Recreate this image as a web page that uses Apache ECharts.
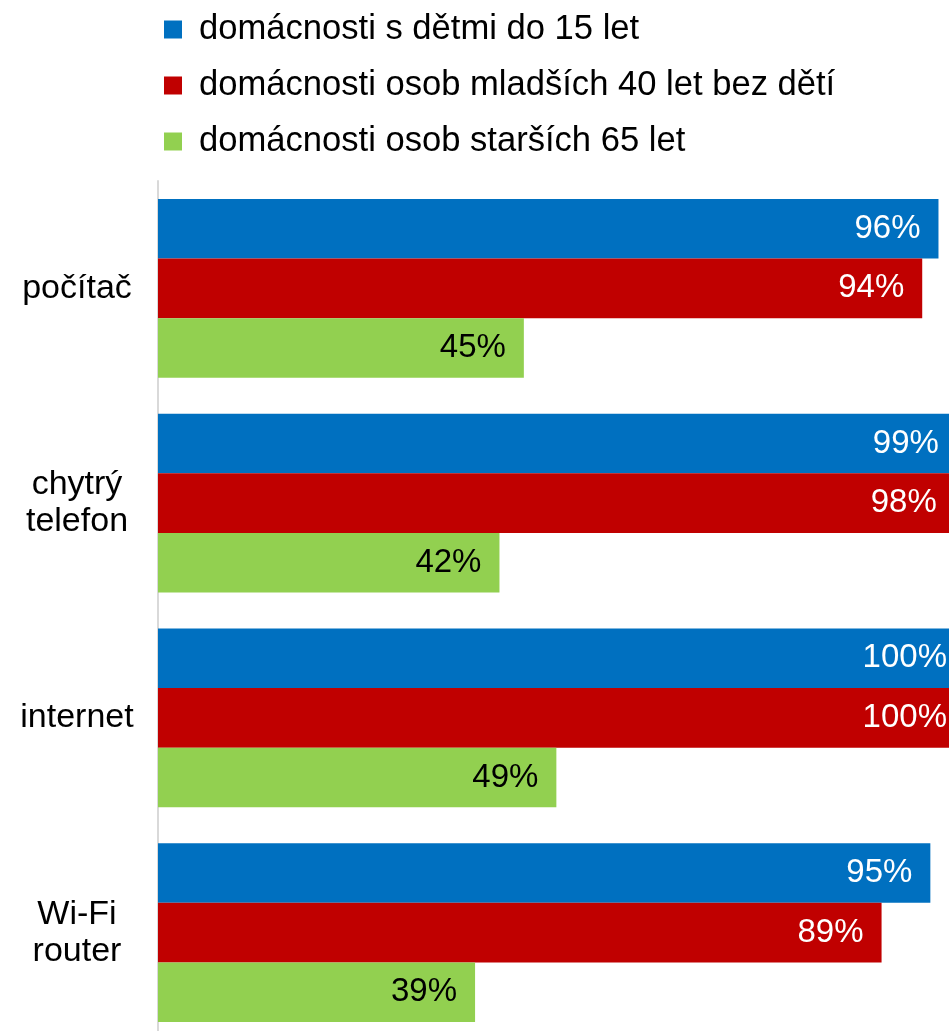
<!DOCTYPE html>
<html>
<head>
<meta charset="utf-8">
<script src="https://cdn.jsdelivr.net/npm/echarts@6/dist/echarts.min.js"></script>
<style>
  html, body { margin: 0; padding: 0; background: #fff; overflow: hidden; }
  /* graf v originále přesahuje pravý a dolní okraj obrázku */
  #main { width: 971px; height: 1040px; }
</style>
</head>
<body>
<div id="main"></div>
<script>
// kategorie a hodnoty (v %)
var categories = ['počítač', 'chytrý\ntelefon', 'internet', 'Wi-Fi\nrouter'];
var seriesNames = [
  'domácnosti s dětmi do 15 let',
  'domácnosti osob mladších 40 let bez dětí',
  'domácnosti osob starších 65 let'
];
var withKids = [96, 99, 100, 95];
var youngNoKids = [94, 98, 100, 89];
var seniors = [45, 42, 49, 39];
var colors = ['#0070C0', '#C00000', '#92D050'];

var font = '"Liberation Sans", Arial, sans-serif';
var myChart = echarts.init(document.getElementById('main'));

function makeSeries(name, data, color, labelColor) {
  return {
    name: name,
    type: 'bar',
    // u nejdelších sloupců posunout popisek, aby nebyl oříznutý
    data: data.map(function (v) {
      return v >= 99 ? { value: v, label: { distance: 24 } } : v;
    }),
    barGap: '0%',
    barCategoryGap: '16.8%',
    itemStyle: { color: color },
    label: {
      show: true,
      position: 'insideRight',
      distance: 18,
      color: labelColor,
      fontFamily: font,
      fontSize: 33,
      formatter: '{c}%'
    },
    animation: false
  };
}

var option = {
  color: colors,
  textStyle: { fontFamily: font },
  legend: {
    orient: 'vertical',
    left: 159,
    top: 7,
    icon: 'rect',
    itemWidth: 18,
    itemHeight: 18,
    itemGap: 21,
    selectedMode: false,
    textStyle: {
      fontFamily: font,
      fontSize: 34.6,
      lineHeight: 34,
      color: '#000',
      padding: [0, 0, 0, 12]
    },
    data: seriesNames
  },
  grid: {
    left: 158,
    right: 0,
    top: 181,
    bottom: 0,
    containLabel: false
  },
  xAxis: {
    type: 'value',
    min: 0,
    max: 100,
    show: false,
    splitLine: { show: false }
  },
  yAxis: {
    type: 'category',
    inverse: true,
    data: categories,
    axisLine: { show: true, lineStyle: { color: '#d9d9d9', width: 2 } },
    axisTick: { show: false },
    axisLabel: {
      align: 'center',
      margin: 81,
      color: '#000',
      fontFamily: font,
      fontSize: 34,
      lineHeight: 37
    }
  },
  series: [
    makeSeries(seriesNames[0], withKids, colors[0], '#fff'),
    makeSeries(seriesNames[1], youngNoKids, colors[1], '#fff'),
    makeSeries(seriesNames[2], seniors, colors[2], '#000')
  ]
};

myChart.setOption(option);
</script>
</body>
</html>
